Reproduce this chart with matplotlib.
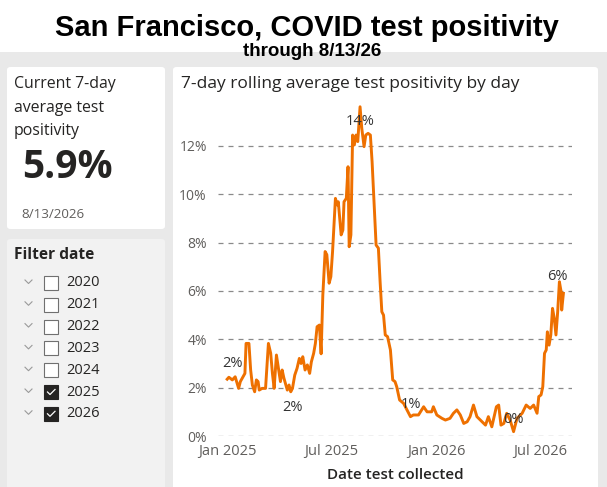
import numpy as np
import matplotlib
matplotlib.use("Agg")
import matplotlib.pyplot as plt
import matplotlib.dates as mdates
from matplotlib.patches import FancyBboxPatch
from matplotlib.lines import Line2D

# ── Data ──────────────────────────────────────────────────────────────────
START = np.datetime64("2025-01-01")
days = [0, 3, 9, 14, 20, 23, 31, 33, 38, 41, 44, 48, 51, 54, 56, 61, 67, 72, 76, 79,
        82, 86, 90, 93, 96, 99, 105, 108, 111, 114, 118, 122, 126, 129, 132, 136, 140,
        144, 147, 151, 154, 157, 161, 164, 167, 171, 174, 178, 181, 184, 189, 192, 194,
        199, 202, 204, 208, 211, 213, 216, 219, 222, 225, 228, 232, 235, 239, 242, 246,
        250, 253, 257, 260, 264, 267, 270, 273, 276, 280, 285, 289, 293, 296, 301, 308,
        320, 325, 334, 343, 349, 357, 360, 366, 375, 381, 389, 395, 401, 407, 413, 419,
        424, 430, 436, 445, 451, 456, 462, 470, 474, 478, 483, 488, 494, 500, 506, 515,
        522, 529, 535, 541, 544, 548, 551, 554, 557, 559, 562, 565, 568, 571, 574, 577,
        580, 583, 584, 587]
positivity = [2.35, 2.43, 2.32, 2.45, 1.97, 2.25, 2.59, 3.83, 3.83, 2.73, 2.11, 1.83,
              2.32, 2.25, 1.90, 1.97, 1.97, 3.83, 3.42, 2.59, 1.97, 3.35, 2.73, 2.25,
              2.73, 2.40, 1.90, 2.11, 1.83, 1.97, 2.52, 2.80, 3.21, 3.00, 3.28, 2.73,
              2.94, 2.59, 3.07, 3.42, 3.83, 4.52, 4.59, 3.40, 5.83, 7.63, 7.50, 6.32,
              6.59, 7.63, 9.83, 9.56, 9.69, 8.32, 8.52, 9.69, 9.83, 11.14, 7.83, 8.32,
              12.45, 12.04, 12.45, 12.18, 13.62, 12.73, 11.97, 12.45, 12.52, 12.45,
              11.35, 9.42, 7.90, 7.77, 6.38, 5.14, 5.00, 4.18, 4.11, 3.56, 2.32, 2.25,
              2.04, 1.49, 1.35, 0.80, 0.87, 0.87, 1.21, 1.00, 1.00, 1.21, 0.87, 0.73,
              0.66, 0.73, 0.94, 1.08, 0.87, 0.52, 0.59, 0.80, 1.28, 0.80, 0.59, 0.45,
              0.80, 0.38, 1.21, 1.28, 0.45, 0.52, 0.94, 0.66, 0.18, 0.73, 0.94, 1.28,
              1.14, 1.28, 0.94, 1.63, 1.70, 2.04, 3.42, 3.56, 4.31, 3.76, 4.18, 5.28,
              4.87, 4.18, 5.14, 6.38, 5.97, 5.21, 5.90]
dates = START + np.array(days).astype("timedelta64[D]")

# labelled points: (index into series, text, offset in px)
labels = [(0, "2%", (5, 16)), (28, "2%", (2, -16)), (64, "14%", (0, -15)),
          (85, "1%", (0, 12)), (114, "0%", (0, 12)), (133, "6%", (-2, 5))]

years = ["2020", "2021", "2022", "2023", "2024", "2025", "2026"]
checked = [False, False, False, False, False, True, True]

current_value = "5.9%"
current_date = "8/13/2026"

# ── Figure / layout helpers ───────────────────────────────────────────────
W, H = 607, 487
fig = plt.figure(figsize=(W / 100, H / 100), dpi=100)
fig.patch.set_facecolor("#e9e9e9")

def fx(px):
    return px / W

def fy(py):
    return 1 - py / H

def panel(x0, y0, x1, y1, color="white"):
    p = FancyBboxPatch((fx(x0), fy(y1)), fx(x1 - x0), (y1 - y0) / H,
                       boxstyle="round,pad=0,rounding_size=0.006",
                       transform=fig.transFigure, facecolor=color,
                       edgecolor="none", zorder=0)
    fig.add_artist(p)

# white header band
fig.add_artist(plt.Rectangle((0, fy(52)), 1, 52 / H, transform=fig.transFigure,
                             facecolor="white", edgecolor="none", zorder=0))

panel(7, 67, 165, 229)
panel(7, 239, 165, 492, color="#f2f2f2")
panel(173, 67, 598, 492)

FONT = "Open Sans"
DARK = "#252423"

fig.text(fx(307), fy(28), "San Francisco, COVID test positivity", ha="center", va="center",
         fontsize=21, fontweight="bold", family="Liberation Sans", color="black")
fig.text(fx(312), fy(51), "through 8/13/26", ha="center", va="center",
         fontsize=13.5, fontweight="bold", family="Liberation Sans", color="black")

# ── Card: current value ───────────────────────────────────────────────────
for i, line in enumerate(["Current 7-day", "average test", "positivity"]):
    fig.text(fx(14), fy(84 + i * 23.5), line, ha="left", va="center",
             fontsize=11.4, family=FONT, color=DARK)
fig.text(fx(22), fy(167), current_value, ha="left", va="center", fontsize=28,
         fontweight="bold", family=FONT, color=DARK)
fig.text(fx(21), fy(215), current_date, ha="left", va="center", fontsize=9.6,
         family=FONT, color="#605e5c")

# ── Card: filter ──────────────────────────────────────────────────────────
fig.text(fx(14), fy(255), "Filter date", ha="left", va="center", fontsize=11.2,
         fontweight="bold", family=FONT, color=DARK)
for i, (yr, on) in enumerate(zip(years, checked)):
    yc = 283 + i * 21.8
    fig.add_artist(Line2D([fx(25), fx(28.5), fx(32)], [fy(yc - 3), fy(yc + 0.5), fy(yc - 3)],
                          transform=fig.transFigure, color="#9a9a9a", linewidth=0.8))
    box = plt.Rectangle((fx(44), fy(yc + 7)), 14 / W, 14 / H, transform=fig.transFigure,
                        facecolor=DARK if on else "white",
                        edgecolor=DARK if on else "#707070", linewidth=0.8)
    fig.add_artist(box)
    if on:
        fig.add_artist(Line2D([fx(47.5), fx(50), fx(55)], [fy(yc), fy(yc + 2.5), fy(yc - 2.5)],
                              transform=fig.transFigure, color="white", linewidth=0.9))
    fig.text(fx(66), fy(yc), yr, ha="left", va="center", fontsize=10.5,
             family=FONT, color=DARK)

# ── Line chart ────────────────────────────────────────────────────────────
fig.text(fx(181), fy(84), "7-day rolling average test positivity by day", ha="left",
         va="center", fontsize=12.5, family=FONT, color=DARK)

ax = fig.add_axes([fx(218), fy(436), fx(572 - 218), (436 - 100) / H])
ax.set_facecolor("none")
ax.plot(dates, positivity, color="#ee7000", linewidth=2.1, solid_joinstyle="round")

for idx, txt, (dx, dy) in labels:
    ax.annotate(txt, (dates[idx], positivity[idx]), xytext=(dx, dy),
                textcoords="offset pixels", ha="center", va="center",
                fontsize=10.5, family=FONT, color="#333333")

ax.set_xlim(START - np.timedelta64(16, "D"), START + np.timedelta64(602, "D"))
ax.set_ylim(0, 13.9)
ax.set_yticks(np.arange(0, 13, 2))
ax.set_yticklabels([f"{v}%" for v in range(0, 13, 2)])
ax.set_xticks([np.datetime64(d) for d in ["2025-01-01", "2025-07-01", "2026-01-01", "2026-07-01"]])
ax.xaxis.set_major_formatter(mdates.DateFormatter("%b %Y"))
ax.grid(axis="y", linestyle=(0, (4, 4)), color="#8a8a8a", linewidth=0.9)
ax.set_axisbelow(True)
for s in ax.spines.values():
    s.set_visible(False)
ax.tick_params(axis="y", length=0, labelsize=10, labelcolor="#605e5c", pad=8)
ax.tick_params(axis="x", length=0, labelsize=10.5, labelcolor="#605e5c", pad=6)
for t in ax.get_xticklabels() + ax.get_yticklabels():
    t.set_family(FONT)
ax.set_xlabel("Date test collected", fontsize=11, fontweight="semibold", family=FONT,
              color=DARK, labelpad=6)

fig.savefig("out.png", dpi=100)
